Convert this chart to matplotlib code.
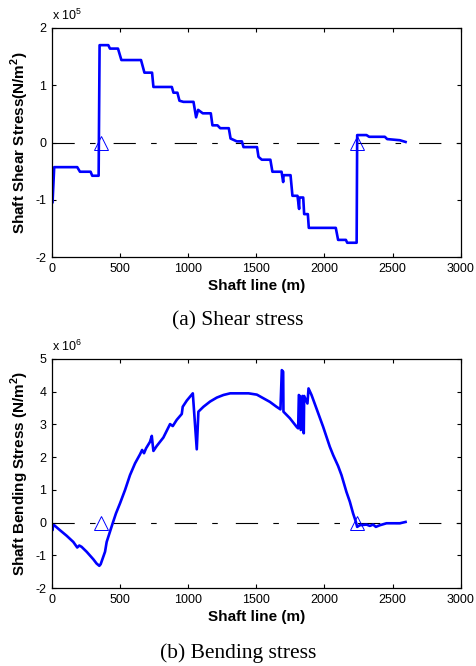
import matplotlib
matplotlib.use("Agg")
import matplotlib.pyplot as plt

# ── data ─────────────────────────────────────────────────────────────────────
# shear stress, units of 1e5 N/m^2
shear_x = [5, 17, 186, 206, 284, 296, 343, 350, 414, 426, 485, 510, 654, 679,
           735, 745, 880, 892, 921, 936, 965, 1039, 1058, 1073, 1107, 1166,
           1178, 1215, 1235, 1298, 1311, 1357, 1394, 1406, 1505, 1516, 1540,
           1603, 1618, 1685, 1697, 1700, 1751, 1765, 1802, 1814, 1816, 1824,
           1844, 1851, 1878, 1885, 2083, 2100, 2157, 2167, 2236, 2240, 2308,
           2328, 2443, 2460, 2553, 2595]
shear_y = [-1.04, -0.43, -0.43, -0.51, -0.51, -0.58, -0.58, 1.70, 1.70, 1.64,
           1.64, 1.44, 1.44, 1.22, 1.22, 0.97, 0.97, 0.87, 0.87, 0.73, 0.71,
           0.71, 0.44, 0.57, 0.51, 0.51, 0.30, 0.30, 0.25, 0.25, 0.07, 0.02,
           0.02, -0.08, -0.08, -0.25, -0.30, -0.30, -0.51, -0.51, -0.69, -0.57,
           -0.57, -0.93, -0.93, -1.16, -0.96, -0.96, -0.96, -1.25, -1.25,
           -1.49, -1.49, -1.70, -1.70, -1.75, -1.75, 0.13, 0.13, 0.10, 0.10,
           0.06, 0.04, 0.01]

# bending stress, units of 1e6 N/m^2
bend_x = [2, 5, 8, 17, 59, 108, 157, 186, 201, 218, 255, 304, 328, 348, 358,
          390, 402, 426, 446, 470, 500, 537, 573, 610, 647, 662, 676, 691, 720,
          733, 740, 745, 769, 818, 867, 887, 916, 953, 960, 990, 1034, 1063,
          1075, 1112, 1161, 1210, 1259, 1308, 1443, 1504, 1599, 1648, 1677,
          1687, 1697, 1699, 1746, 1795, 1807, 1812, 1818, 1826, 1838, 1848,
          1851, 1875, 1883, 1905, 1941, 1990, 2039, 2064, 2100, 2125, 2161,
          2186, 2210, 2230, 2240, 2259, 2308, 2333, 2357, 2377, 2406, 2455,
          2553, 2595]
bend_y = [-0.08, -0.23, -0.10, -0.08, -0.23, -0.40, -0.59, -0.76, -0.70, -0.74,
          -0.89, -1.12, -1.25, -1.32, -1.27, -0.89, -0.59, -0.28, -0.02, 0.28,
          0.59, 1.00, 1.45, 1.81, 2.09, 2.22, 2.12, 2.27, 2.47, 2.65, 2.37,
          2.19, 2.34, 2.60, 3.01, 2.95, 3.14, 3.32, 3.54, 3.73, 3.95, 2.24,
          3.39, 3.54, 3.70, 3.82, 3.90, 3.95, 3.95, 3.91, 3.69, 3.54, 3.46,
          4.66, 4.61, 3.39, 3.19, 2.93, 2.88, 3.90, 3.87, 2.83, 3.87, 2.73,
          3.87, 3.64, 4.10, 3.90, 3.49, 2.93, 2.32, 2.06, 1.73, 1.45, 0.94,
          0.64, 0.28, 0.03, -0.13, -0.08, -0.06, -0.10, -0.06, -0.13, -0.08,
          -0.02, -0.02, 0.02]

support_x = [357, 2240]
support_y = [0, 0]

panels = [
    dict(x=shear_x, y=shear_y, ylim=(-2, 2), yticks=[-2, -1, 0, 1, 2],
         exp="5", ylabel="Shaft Shear Stress(N/m$^{\\mathbf{2}}$)",
         caption="(a) Shear stress"),
    dict(x=bend_x, y=bend_y, ylim=(-2, 5), yticks=list(range(-2, 6)),
         exp="6", ylabel="Shaft Bending Stress (N/m$^{\\mathbf{2}}$)",
         caption="(b) Bending stress"),
]
xticks = [0, 500, 1000, 1500, 2000, 2500, 3000]

# ── style ────────────────────────────────────────────────────────────────────
plt.rcParams["font.family"] = ["Liberation Sans", "DejaVu Sans"]
plt.rcParams["mathtext.fontset"] = "custom"
plt.rcParams["mathtext.rm"] = "Liberation Sans"
plt.rcParams["mathtext.bf"] = "Liberation Sans:bold"
plt.rcParams["lines.scale_dashes"] = False
plt.rcParams["axes.unicode_minus"] = False

fig = plt.figure(figsize=(4.76, 6.66), dpi=100)
axes_pos = [[0.109, 0.614, 0.859, 0.344],
            [0.109, 0.117, 0.859, 0.344]]
caption_y = [0.511, 0.012]

for p, pos, cy in zip(panels, axes_pos, caption_y):
    ax = fig.add_axes(pos)
    ax.axhline(0, color="black", lw=0.8, dashes=(16, 11, 4, 13))
    ax.plot(p["x"], p["y"], color="#0000FF", lw=1.9)
    ax.plot(support_x, support_y, ls="none", marker="^", ms=10,
            mfc="none", mec="#0000FF", mew=0.7)
    ax.set_xlim(0, 3000)
    ax.set_ylim(*p["ylim"])
    ax.set_xticks(xticks)
    ax.set_yticks(p["yticks"])
    ax.tick_params(direction="in", top=True, right=True, labelsize=9,
                   length=3, width=0.8, pad=4)
    for s in ax.spines.values():
        s.set_linewidth(0.9)
    ax.set_xlabel("Shaft line (m)", fontsize=11, fontweight="bold", labelpad=3)
    ax.set_ylabel(p["ylabel"], fontsize=11, fontweight="bold", labelpad=3)
    ax.text(0.0, 1.02, "x 10$^{" + p["exp"] + "}$", transform=ax.transAxes,
            fontsize=9, ha="left", va="bottom")
    fig.text(0.5, cy, p["caption"], ha="center", va="baseline", fontsize=15.5,
             family="Liberation Serif")

fig.savefig("out.png", dpi=100)
